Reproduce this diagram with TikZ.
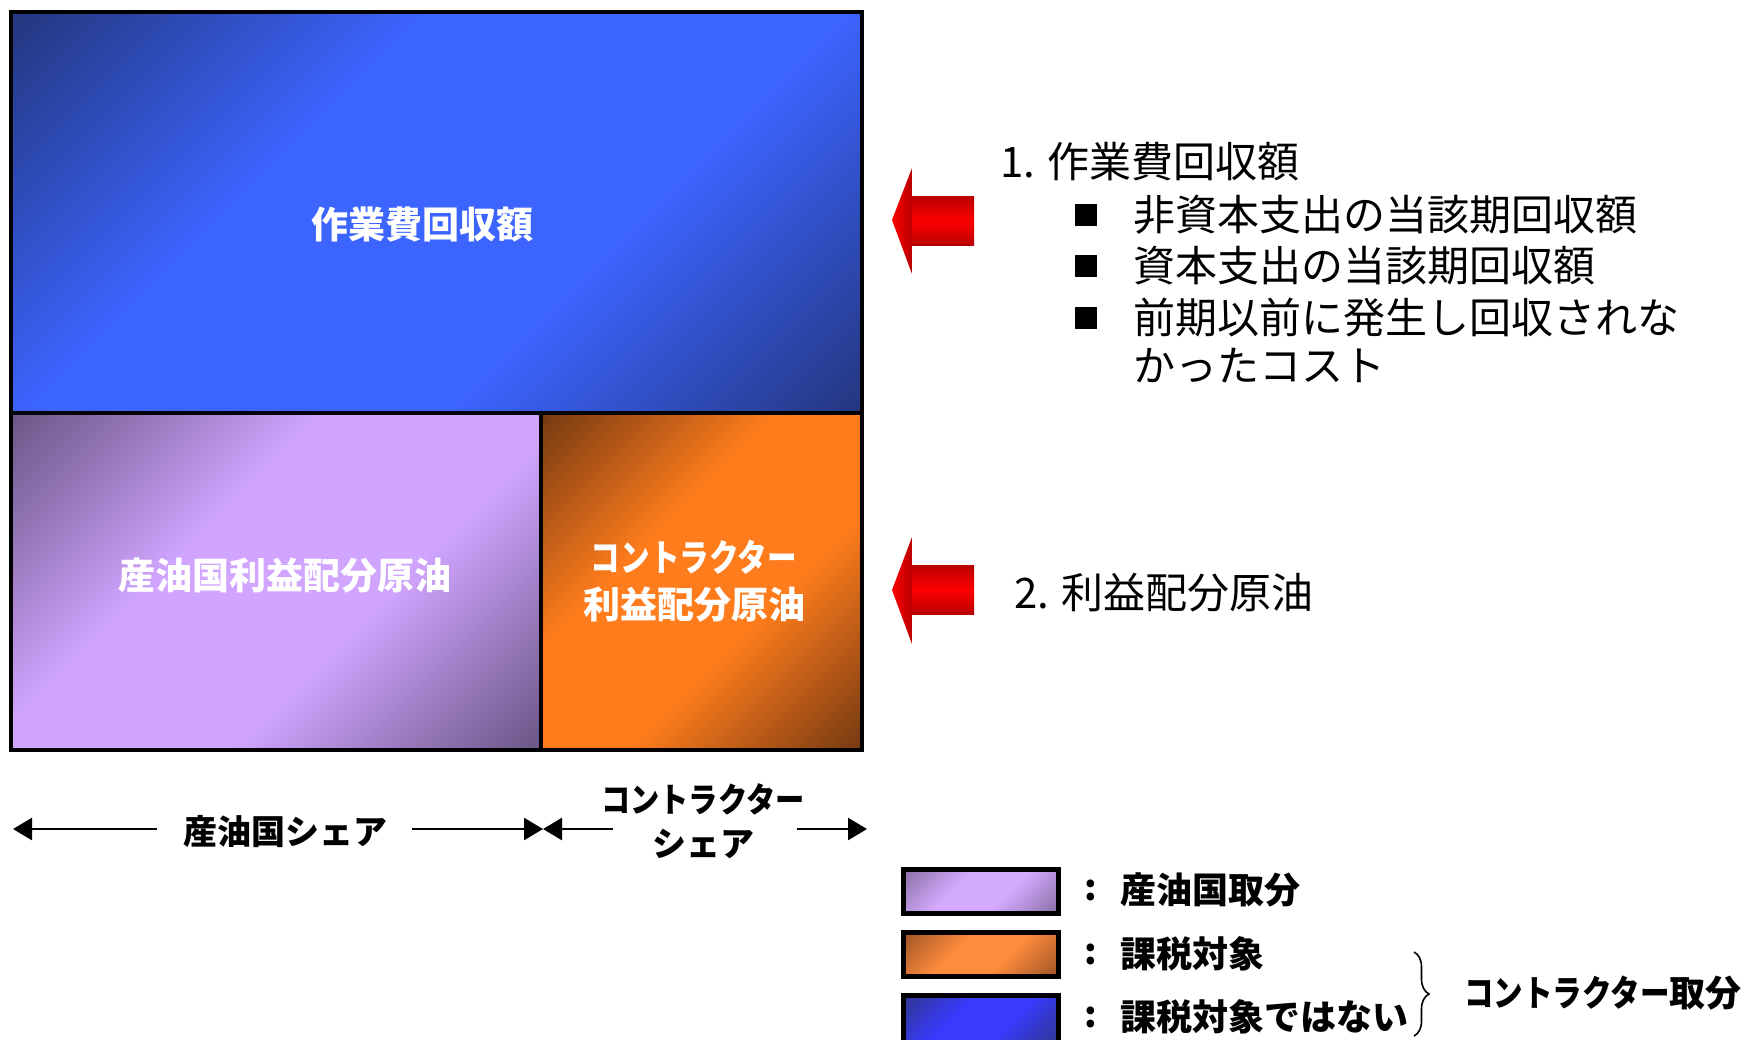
\documentclass[tikz,border=0pt]{standalone}
\usepackage{fontspec}
\usepackage{graphicx}
\newfontfamily\cjk{Noto Sans CJK JP}
\usetikzlibrary{arrows.meta,decorations.pathreplacing}

\definecolor{bdark}{HTML}{243780}
\definecolor{blight}{HTML}{3C64FF}
\definecolor{pdark}{HTML}{6C5787}
\definecolor{plight}{HTML}{D0A4FF}
\definecolor{odark}{HTML}{773A12}
\definecolor{olight}{HTML}{FF7C1C}
\definecolor{lbdark}{HTML}{2E3690}
\definecolor{lblight}{HTML}{3A3AFF}
\definecolor{lpdark}{HTML}{8A70A6}
\definecolor{lplight}{HTML}{D4AAFF}
\definecolor{lodark}{HTML}{9E5428}
\definecolor{lolight}{HTML}{FF8C3C}
\definecolor{rdark}{HTML}{B80000}
\definecolor{rlight}{HTML}{FF0000}

\pgfdeclareverticalshading{blueshade}{100bp}{color(0bp)=(bdark); color(15bp)=(bdark); color(38bp)=(blight); color(62bp)=(blight); color(85bp)=(bdark); color(100bp)=(bdark)}
\pgfdeclareverticalshading{purpshade}{100bp}{color(0bp)=(pdark); color(15bp)=(pdark); color(40bp)=(plight); color(60bp)=(plight); color(85bp)=(pdark); color(100bp)=(pdark)}
\pgfdeclareverticalshading{orshade}{100bp}{color(0bp)=(odark); color(15bp)=(odark); color(40bp)=(olight); color(60bp)=(olight); color(85bp)=(odark); color(100bp)=(odark)}
\pgfdeclareverticalshading{lbshade}{100bp}{color(0bp)=(lbdark); color(15bp)=(lbdark); color(40bp)=(lblight); color(60bp)=(lblight); color(85bp)=(lbdark); color(100bp)=(lbdark)}
\pgfdeclareverticalshading{lpshade}{100bp}{color(0bp)=(lpdark); color(15bp)=(lpdark); color(40bp)=(lplight); color(60bp)=(lplight); color(85bp)=(lpdark); color(100bp)=(lpdark)}
\pgfdeclareverticalshading{loshade}{100bp}{color(0bp)=(lodark); color(15bp)=(lodark); color(40bp)=(lolight); color(60bp)=(lolight); color(85bp)=(lodark); color(100bp)=(lodark)}

\newcommand{\narrowkata}[2]{\scalebox{#1}[1]{#2}}

\begin{document}
\begin{tikzpicture}[x=1pt,y=-1pt,
  boxline/.style={draw=black,line width=4.5pt},
  wtitle/.style={text=white,font=\cjk\bfseries\fontsize{37}{47}\selectfont,inner sep=0pt,align=center},
  body/.style={font=\cjk\fontsize{42}{50}\selectfont,anchor=west,inner sep=0pt},
  blabel/.style={font=\cjk\bfseries\fontsize{34}{44}\selectfont,inner sep=0pt,align=center},
  leglabel/.style={font=\cjk\bfseries\fontsize{36}{44}\selectfont,anchor=west,inner sep=0pt},
  sq/.style={fill=black,minimum size=22pt,inner sep=0pt},
  sharr/.style={line width=2.6pt,-{Triangle[length=19pt,width=22pt]}},
  legbox/.style={draw=black,line width=5pt,minimum width=155pt,inner sep=0pt},
]
\useasboundingbox (0,0) rectangle (1755,1039);
\fill[white] (0,0) rectangle (1755,1039);

% main boxes
\shade[shading=blueshade,shading angle=45] (11,12) rectangle (862,413);
\shade[shading=purpshade,shading angle=45] (11,413) rectangle (541,750);
\shade[shading=orshade,shading angle=45] (541,413) rectangle (862,750);
\draw[boxline] (11,12) rectangle (862,750);
\draw[boxline] (11,413) -- (862,413);
\draw[boxline] (541,413) -- (541,750);

\node[wtitle] (t1) at (422,224) {作業費回収額};
\node[wtitle] (t2) at (285,576) {産油国利益配分原油};
\node[wtitle] (t3) at (694,581) {\narrowkata{0.80}{コントラクター}\\利益配分原油};

% red arrows
\shade[left color=rlight,right color=rdark] (892,220) -- (912,168) -- (912,274) -- cycle;
\shade[top color=rdark,bottom color=rdark,middle color=rlight] (912,196) rectangle (974,245);
\shade[left color=rlight,right color=rdark] (892,590) -- (912,537) -- (912,644) -- cycle;
\shade[top color=rdark,bottom color=rdark,middle color=rlight] (912,565) rectangle (974,614);

% right text
\node[body] (h1) at (1000,162) {1. 作業費回収額};
\node[sq] (s1) at (1086,215) {};
\node[sq] (s2) at (1086,266) {};
\node[sq] (s3) at (1086,318) {};
\node[body] (l1) at (1133,215) {非資本支出の当該期回収額};
\node[body] (l2) at (1133,266) {資本支出の当該期回収額};
\node[body] (l3) at (1133,318) {前期以前に発生し回収されな};
\node[body] (l4) at (1133,366) {かったコスト};
\node[body] (h2) at (1014,593) {2. 利益配分原油};

% share arrows
\node[blabel] (sh1) at (285,832) {産油国シェア};
\node[blabel] (sh2) at (703,821) {\narrowkata{0.86}{コントラクター}\\シェア};
\coordinate (p0) at (13,829);
\coordinate (p1) at (157,829);
\coordinate (p2) at (412,829);
\coordinate (pm) at (543,829);
\coordinate (p3) at (613,829);
\coordinate (p4) at (797,829);
\coordinate (p5) at (867,829);
\draw[sharr] (p1) -- (p0);
\draw[sharr] (p2) -- (pm);
\draw[sharr] (p3) -- (pm);
\draw[sharr] (p4) -- (p5);

% legend
\node[legbox,minimum height=44pt,shade,shading=lpshade,shading angle=45] (k1) at (981,891) {};
\node[legbox,minimum height=44pt,shade,shading=loshade,shading angle=45] (k2) at (981,954) {};
\node[legbox,minimum height=50pt,shade,shading=lbshade,shading angle=45] (k3) at (981,1020) {};
\node[leglabel] (c1) at (1084,890) {:};
\node[leglabel] (c2) at (1084,954) {:};
\node[leglabel] (c3) at (1084,1017) {:};
\node[leglabel] (g1) at (1120,890) {産油国取分};
\node[leglabel] (g2) at (1120,954) {課税対象};
\node[leglabel] (g3) at (1120,1017) {課税対象ではない};
\coordinate (br1) at (1414,952);
\coordinate (br2) at (1414,1036);
\draw[line width=1.6pt,decorate,decoration={brace,amplitude=15pt}] (br1) -- (br2);
\node[leglabel] (g4) at (1464,993) {\narrowkata{0.82}{コントラクター}取分};
\end{tikzpicture}
\end{document}
